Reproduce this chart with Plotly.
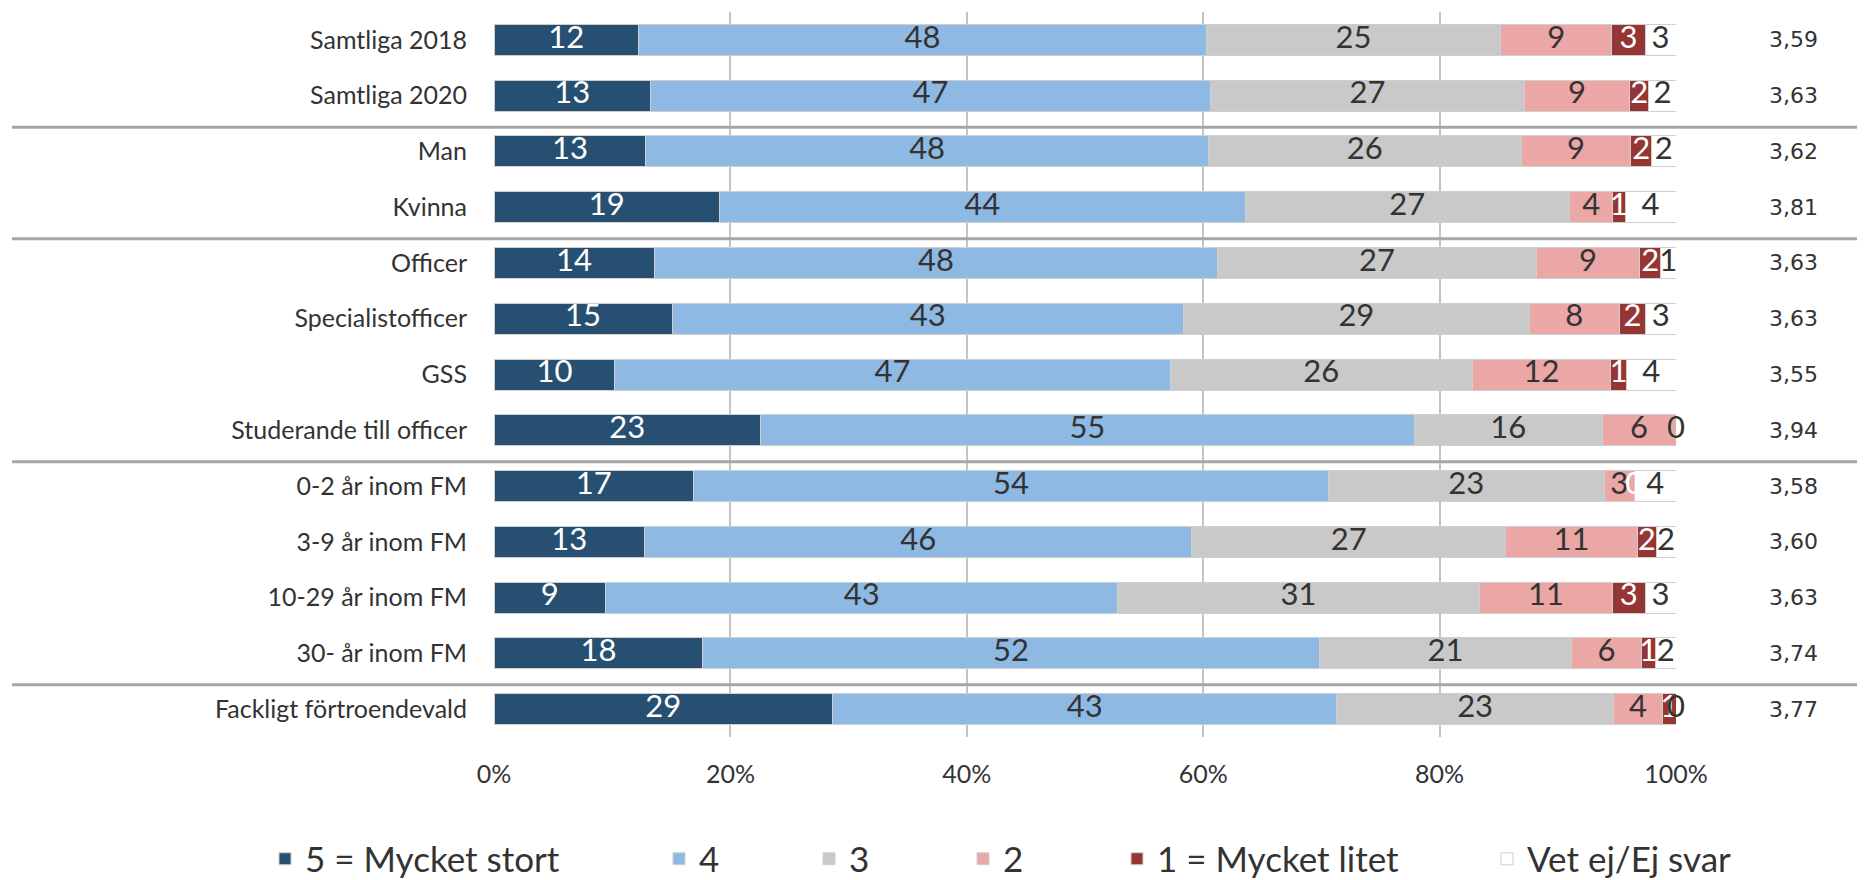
import plotly.graph_objects as go

categories = ["Samtliga 2018", "Samtliga 2020", "Man", "Kvinna", "Officer",
              "Specialistofficer", "GSS", "Studerande till officer",
              "0-2 år inom FM", "3-9 år inom FM", "10-29 år inom FM",
              "30- år inom FM", "Fackligt förtroendevald"]

series_names = ["5 = Mycket stort", "4", "3", "2", "1 = Mycket litet", "Vet ej/Ej svar"]
s5 = [12.24, 13.25, 12.85, 19.09, 13.55, 15.06, 10.23, 22.55, 16.87, 12.75, 9.43, 17.67, 28.65]
s4 = [48.01, 47.35, 47.59, 44.45, 47.70, 43.27, 46.97, 55.30, 53.74, 46.29, 43.36, 52.13, 42.66]
s3 = [24.92, 26.60, 26.45, 27.46, 26.91, 29.26, 25.58, 15.90, 23.30, 26.55, 30.56, 21.40, 23.39]
s2 = [9.39, 8.85, 9.28, 3.64, 8.79, 7.61, 11.69, 6.25, 2.56, 11.14, 11.29, 5.84, 4.17]
s1 = [2.82, 1.66, 1.77, 1.05, 1.75, 2.23, 1.35, 0.0, 0.0, 1.58, 2.74, 1.24, 1.13]
s0 = [2.62, 2.29, 2.06, 4.31, 1.30, 2.57, 4.18, 0.0, 3.53, 1.69, 2.62, 1.72, 0.0]
means = [3.59, 3.63, 3.62, 3.81, 3.63, 3.63, 3.55, 3.94, 3.58, 3.60, 3.63, 3.74, 3.77]
x_ticks = [0, 20, 40, 60, 80, 100]
x_ticklabels = ["0%", "20%", "40%", "60%", "80%", "100%"]

series = [s5, s4, s3, s2, s1, s0]
colors = ["#274F72", "#8EB9E3", "#C9C9C9", "#EBA6A6", "#953635", "#FFFFFF"]
label_colors = ["#FFFFFF", "#333333", "#333333", "#333333", "#FFFFFF", "#333333"]

FONT = "Lato"
OFF = 8  # page body margin
W, H = 1865 - OFF, 880 - OFF
L = 494 - OFF
T = 12 - OFF
R = W - (1676 - OFF)
B = H - (737 - OFF)
pw, ph = W - L - R, H - T - B

fig = go.Figure()
legend_px = [257, 651, 801, 955, 1109, 1479]
for k, (name, vals) in enumerate(zip(series_names, series)):
    fig.add_trace(go.Bar(
        y=categories, x=vals, name=name, orientation="h",
        marker=dict(color=colors[k], line=dict(color="#CFCFCF", width=1)),
        legend="legend" if k == 0 else f"legend{k + 1}",
        hoverinfo="skip",
    ))

# segment labels (centred on each segment)
cum = [0.0] * len(categories)
for k, vals in enumerate(series):
    mids = [c + v / 2 for c, v in zip(cum, vals)]
    cum = [c + v for c, v in zip(cum, vals)]
    fig.add_trace(go.Scatter(
        y=categories, x=mids, mode="text",
        text=[f"{v:.0f}" for v in vals],
        textfont=dict(family=FONT, size=31, color=label_colors[k]),
        textposition="middle center", showlegend=False, hoverinfo="skip",
        cliponaxis=False,
    ))

# mean values column
for cat, m in zip(categories, means):
    fig.add_annotation(
        x=(1786 - L) / pw, xref="paper", y=cat, yref="y",
        text=f"{m:.2f}".replace(".", ","), showarrow=False,
        font=dict(family="DejaVu Sans", size=22, color="#333333"), xanchor="center",
    )

# group separators
for i in [1, 3, 7, 11]:
    fig.add_shape(type="line", xref="paper", yref="y",
                  x0=(4 - L) / pw, x1=(W - L) / pw,
                  y0=i + 0.565, y1=i + 0.565,
                  line=dict(color="#A6A6A6", width=3), layer="above")

legends = {}
for k, px in enumerate(legend_px):
    key = "legend" if k == 0 else f"legend{k + 1}"
    legends[key] = dict(
        x=(px - L) / pw, xanchor="left", y=(729 - 851) / ph, yanchor="middle",
        orientation="h", font=dict(family=FONT, size=35, color="#333333"),
        bgcolor="rgba(0,0,0,0)", itemclick=False, itemdoubleclick=False,
    )

fig.update_layout(
    width=W, height=H, barmode="stack", bargap=0.444,
    margin=dict(l=L, r=R, t=T, b=B, autoexpand=False),
    plot_bgcolor="white", paper_bgcolor="white",
    font=dict(family=FONT, color="#333333"),
    xaxis=dict(range=[0, 100], tickvals=x_ticks, ticktext=x_ticklabels,
               showgrid=True, gridcolor="#C4C4C4", gridwidth=2,
               zeroline=False, showline=False, ticks="",
               tickfont=dict(family=FONT, size=25, color="#333333"),
               ticklabelstandoff=20, fixedrange=True),
    yaxis=dict(categoryorder="array", categoryarray=categories,
               range=[len(categories) - 0.5, -0.5], autorange=False,
               showgrid=False, zeroline=False,
               ticks="", tickfont=dict(family=FONT, size=25, color="#333333"),
               ticklabelstandoff=26, fixedrange=True),
    **legends,
)

fig.write_html("out.html")
